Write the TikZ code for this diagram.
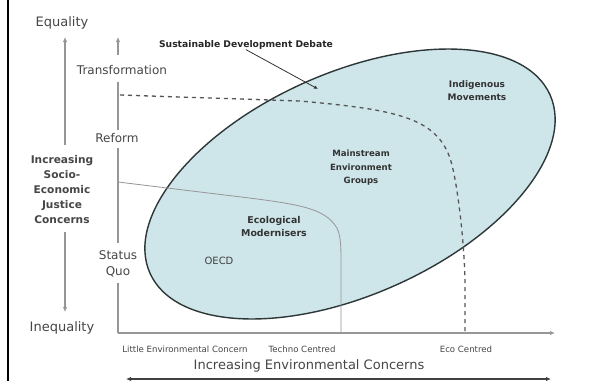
\documentclass[tikz,border=0pt]{standalone}
\usepackage{fontspec}
\setmainfont{DejaVu Sans}
\usetikzlibrary{arrows.meta,shapes.geometric}
\definecolor{ellfill}{RGB}{206,230,234}
\definecolor{ellline}{RGB}{45,55,55}
\definecolor{axgray}{RGB}{150,150,150}
\definecolor{txtgray}{RGB}{70,70,70}
\definecolor{dashgray}{RGB}{85,85,85}
\tikzset{
  axisline/.style={draw=axgray, line width=1.4pt},
  tip/.style={-{Latex[length=5pt,width=4.5pt]}},
  dashline/.style={draw=dashgray, line width=1.3pt, dash pattern=on 4pt off 4pt},
  thinline/.style={draw=axgray, line width=0.8pt},
  axlabel/.style={text=txtgray, inner sep=0pt, font=\fontsize{12}{16}\selectfont, align=center},
  biglabel/.style={text=txtgray, inner sep=0pt, font=\fontsize{13}{15}\selectfont},
  ticklabel/.style={text=txtgray, inner sep=0pt, font=\fontsize{8.6}{10}\selectfont},
  grouplabel/.style={text=black!80, inner sep=0pt, align=center, font=\bfseries\fontsize{9}{13}\selectfont},
}
\begin{document}
\begin{tikzpicture}[x=1pt,y=-1pt]
\useasboundingbox (0,0) rectangle (612,381);
\fill[white] (0,0) rectangle (612,381);
% left frame line
\draw[line width=2.5pt] (8,0) -- (8,381);

% ellipse
\node[ellipse, draw=ellline, line width=1.4pt, fill=ellfill, minimum width=438pt, minimum height=222pt, inner sep=0pt, rotate=24] (sdd) at (350,184) {};

% coordinates
\coordinate (O) at (118,333);
\coordinate (ytop) at (118,37);
\coordinate (xend) at (555,333);
\coordinate (trt) at (118,55);
\coordinate (trb) at (118,82);
\coordinate (rft) at (118,130);
\coordinate (rfb) at (118,148);
\coordinate (sqt) at (118,243);
\coordinate (sqb) at (118,283);
\coordinate (ltop) at (65,37);
\coordinate (jt) at (65,145);
\coordinate (jb) at (65,232);
\coordinate (lbot) at (65,312);
\coordinate (ba) at (126,379);
\coordinate (bb) at (551,379);
\coordinate (dstart) at (120,95);
\coordinate (ecotick) at (465,333);
\coordinate (tstart) at (118,182);
\coordinate (technotick) at (341,333);
\coordinate (sddtip) at (318,89);

% inner axes
\draw[axisline, tip] (O) -- (xend);
\draw[axisline] (O) -- (sqb);
\draw[axisline] (sqt) -- (rfb);
\draw[axisline] (rft) -- (trb);
\draw[axisline, tip] (trt) -- (ytop);

% left arrow
\draw[axisline, line width=1.1pt, tip] (jt) -- (ltop);
\draw[axisline, line width=1.1pt, tip] (jb) -- (lbot);

% bottom double arrow
\draw[draw=black!75, line width=1.1pt, {Latex[length=5pt,width=4.5pt]}-{Latex[length=5pt,width=4.5pt]}] (ba) -- (bb);

% dashed eco-centred boundary
\draw[dashline] (dstart) -- (300,101) .. controls (400,110) and (440,118) .. (452,165)
  .. controls (458,189) and (464,240) .. (465,280) -- (ecotick);

% thin techno-centred boundary
\draw[thinline] (tstart) -- (200,192) .. controls (290,203) and (320,205) .. (335,225)
  .. controls (341,233) and (341,245) .. (341,265) -- (technotick);

% annotation
\node[inner sep=0pt, text=black!85, font=\bfseries\fontsize{9.2}{11}\selectfont] (sddlabel) at (246,45) {Sustainable Development Debate};
\draw[draw=black!80, line width=0.8pt, -{Latex[length=4pt,width=3.5pt]}] (sddlabel.south) -- (sddtip);

% axis labels
\node[biglabel] (eq) at (62,23) {Equality};
\node[biglabel] (ineq) at (62,328) {Inequality};
\node[text=txtgray, inner sep=0pt, align=center, font=\bfseries\fontsize{10.6}{15}\selectfont] (jtext) at (62,190) {Increasing\\Socio-\\Economic\\Justice\\Concerns};
\node[axlabel] (trans) at (122,70) {Transformation};
\node[axlabel] (reform) at (117,138) {Reform};
\node[axlabel] (sq) at (118,264) {Status\\Quo};

\node[ticklabel] (little) at (185,349) {Little Environmental Concern};
\node[ticklabel] (techno) at (302,349) {Techno Centred};
\node[ticklabel] (eco) at (466,349) {Eco Centred};
\node[biglabel] (iec) at (309,366) {Increasing Environmental Concerns};

% group labels
\node[grouplabel] (indig) at (477,91) {Indigenous\\Movements};
\node[grouplabel, font=\bfseries\fontsize{8.6}{13.5}\selectfont] (mainstream) at (361,168) {Mainstream\\Environment\\Groups};
\node[grouplabel, font=\bfseries\fontsize{9.4}{13}\selectfont] (ecol) at (274,226) {Ecological\\Modernisers};
\node[text=black!75, inner sep=0pt, font=\fontsize{10}{12}\selectfont] (oecd) at (219,261) {OECD};
\end{tikzpicture}
\end{document}
